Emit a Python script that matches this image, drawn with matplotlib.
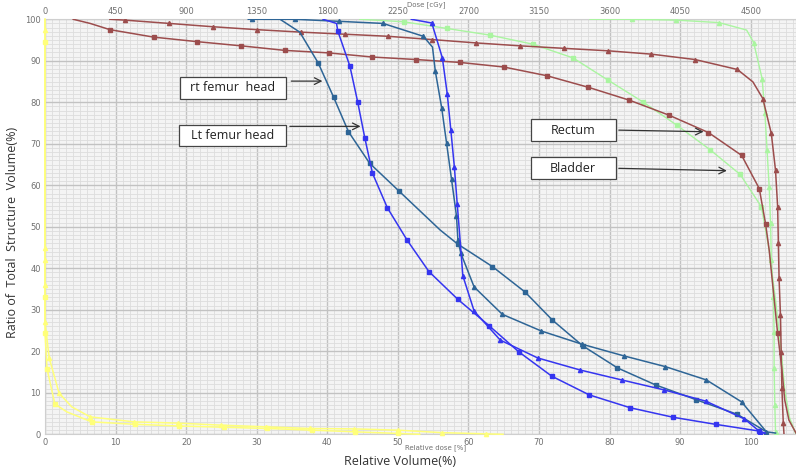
import matplotlib.pyplot as plt
from matplotlib.patches import Rectangle

# relative dose (%) vs volume (%)
yel_tri_x = [0, 0, 0, 0, 0, 0, 0.6, 2.0, 3.8, 6.4, 12.6, 18.8, 25.0, 31.3, 37.5, 43.8, 50.0, 56.2, 62.5, 64.9]
yel_tri_y = [100, 97.3, 44.8, 41.9, 35.9, 27.1, 18.4, 9.9, 6.6, 4.2, 3.0, 2.7, 2.2, 1.8, 1.4, 1.3, 1.0, 0.4, 0.1, 0]

yel_sq_x = [0, 0, 0, 0, 0.3, 1.4, 3.1, 6.6, 12.8, 19.0, 25.3, 31.5, 37.8, 43.9, 50.0, 53.1]
yel_sq_y = [100, 94.5, 33.1, 24.3, 15.7, 7.3, 5.4, 3.0, 2.4, 2.0, 1.7, 1.4, 1.0, 0.6, 0.2, 0]

grn_tri_x = [77.2, 83.1, 89.4, 95.5, 99.4, 100.4, 101.6, 102.0, 102.3, 102.6, 102.8, 102.9, 103.2, 103.3, 103.3, 103.4, 103.5, 103.7]
grn_tri_y = [100, 100, 99.8, 99.2, 97.4, 94.4, 85.7, 77.3, 68.5, 59.6, 50.8, 42.0, 33.1, 24.7, 15.9, 7.1, 0.6, 0]

bladder_x = [44.6, 50.8, 56.9, 63.0, 69.1, 74.8, 79.8, 84.7, 89.5, 94.2, 98.5, 101.5, 102.6, 103.5, 104.3, 104.8, 105.5, 106.4]
bladder_y = [100, 99.4, 97.8, 96.2, 94.0, 90.7, 85.3, 80.1, 74.5, 68.6, 62.6, 54.8, 44.4, 32.3, 20.3, 10.7, 3.9, 0]

brn_tri_x = [9.2, 11.3, 17.6, 23.8, 30.0, 36.3, 42.5, 48.6, 54.9, 61.1, 67.3, 73.5, 79.8, 85.9, 92.1, 98.1, 100.3,
             101.7, 102.9, 103.5, 103.8, 103.9, 104.0, 104.2, 104.3, 104.4, 104.6, 104.7]
brn_tri_y = [100, 99.8, 99.0, 98.2, 97.5, 96.9, 96.4, 95.9, 95.1, 94.3, 93.6, 93.0, 92.4, 91.6, 90.3, 87.9, 84.9,
             80.9, 72.5, 63.6, 54.8, 46.1, 37.6, 28.7, 19.9, 11.2, 2.7, 0]

rectum_x = [4.0, 6.4, 9.2, 15.4, 21.6, 27.8, 34.0, 40.2, 46.4, 52.6, 58.8, 65.0, 71.1, 77.0, 82.8, 88.4, 94.0, 98.7,
            101.2, 102.1, 102.6, 103.8, 104.4, 104.8, 105.4, 106.4]
rectum_y = [100, 99.0, 97.5, 95.7, 94.6, 93.6, 92.5, 91.9, 90.9, 90.3, 89.6, 88.5, 86.4, 83.6, 80.5, 76.9, 72.7, 67.2,
            59.2, 50.6, 44.4, 24.3, 15.7, 8.3, 3.4, 0.3]

dk_tri_x = [28.8, 29.3, 35.4, 41.7, 47.9, 53.6, 54.9, 55.3, 56.2, 56.9, 57.6, 58.3, 58.5, 58.9, 60.8, 64.8, 70.3,
            76.1, 82.0, 87.9, 93.7, 98.7, 102.2, 103.5]
dk_tri_y = [100, 100, 100, 99.5, 99.0, 95.9, 93.3, 87.5, 78.7, 70.1, 61.4, 52.6, 46.8, 43.7, 35.5, 28.9, 24.9,
            21.7, 18.9, 16.3, 13.1, 7.8, 0.6, 0.3]

rt_x = [31.0, 33.3, 36.1, 38.7, 40.9, 43.0, 46.0, 50.1, 56.0, 58.5, 63.4, 68.0, 71.9, 76.2, 81.1, 86.5, 92.3, 98.1, 102.5]
rt_y = [100, 100, 96.9, 89.5, 81.2, 72.9, 65.3, 58.7, 49.2, 45.8, 40.4, 34.3, 27.5, 21.3, 16.0, 11.9, 8.3, 4.8, 0.3]

br_tri_x = [51.9, 54.8, 56.3, 57.0, 57.5, 58.0, 58.4, 58.7, 59.2, 60.8, 64.5, 69.8, 75.8, 81.7, 87.7, 93.6, 99.1, 101.3, 102.0]
br_tri_y = [100, 99.1, 90.7, 81.9, 73.3, 64.4, 55.6, 49.2, 38.2, 29.7, 22.7, 18.4, 15.5, 13.1, 10.7, 8.0, 3.7, 0.6, 0.2]

lt_x = [39.4, 41.3, 41.5, 43.2, 44.3, 45.3, 46.4, 48.5, 51.3, 54.4, 58.5, 62.9, 67.1, 71.8, 77.1, 82.9, 89.0, 95.0, 101.1, 102.0]
lt_y = [100, 99.0, 97.1, 88.7, 80.1, 71.5, 62.9, 54.6, 46.8, 39.2, 32.5, 26.2, 19.9, 14.0, 9.5, 6.4, 4.1, 2.4, 0.8, 0.3]

dose_ticks = [0, 450, 900, 1350, 1800, 2250, 2700, 3150, 3600, 4050, 4500]

fig = plt.figure(figsize=(7.96, 4.69), dpi=100)
ax = fig.add_axes([0.0565, 0.074, 0.9435, 0.8849])
ax.set_facecolor("#f4f4f4")

def draw(x, y, color, marker, skip=(), lw=1.1, clip=True):
    marks = [i for i in range(len(x)) if i not in skip]
    ax.plot(x, y, color=color, lw=lw, marker=marker, ms=3.0, markevery=marks, zorder=3, clip_on=clip)

draw(yel_tri_x, yel_tri_y, "#ffff7a", "^", skip=(0, 8, 19), clip=False)
draw(yel_sq_x, yel_sq_y, "#ffff7a", "s", skip=(0, 6, 15), clip=False)
draw(grn_tri_x, grn_tri_y, "#aaf5a0", "^", skip=(0, 4, 17), lw=1.0)
draw(bladder_x, bladder_y, "#aaf5a0", "s", skip=(0, 12, 13, 14, 15, 16, 17), lw=1.0)
draw(brn_tri_x, brn_tri_y, "#9c4d4d", "^", skip=(0, 16, 27))
draw(rectum_x, rectum_y, "#9c4d4d", "s", skip=(0, 1, 20, 22, 23, 24, 25))
draw(dk_tri_x, dk_tri_y, "#2e6596", "^", skip=(0, 6, 23))
draw(rt_x, rt_y, "#2e6596", "s", skip=(0, 1, 2, 8, 18))
draw(br_tri_x, br_tri_y, "#3535f0", "^", skip=(0, 7, 18))
draw(lt_x, lt_y, "#3535f0", "s", skip=(0, 1, 19))

ax.set_xlim(0, 106.4)
ax.set_ylim(0, 100)
ax.set_xticks(range(0, 101, 10))
ax.set_yticks(range(0, 101, 10))
ax.set_xticks(range(0, 107), minor=True)
ax.set_yticks(range(0, 101), minor=True)
ax.grid(which="minor", color="#dddddd", lw=0.6, zorder=0)
ax.grid(which="major", color="#c2c2c2", lw=1.0, zorder=0)
ax.set_axisbelow(True)
ax.tick_params(which="both", length=0, labelsize=6, labelcolor="#707070", pad=3)
for s in ax.spines.values():
    s.set_color("#cfcfcf")
    s.set_linewidth(0.8)

top = ax.secondary_xaxis("top", functions=(lambda v: v * 45, lambda d: d / 45))
top.set_xticks(dose_ticks)
top.tick_params(length=0, labelsize=6, labelcolor="#707070", pad=2)
top.spines["top"].set_visible(False)

# labelled boxes with arrows
lab = dict(family=["Open Sans", "DejaVu Sans"], fontsize=9, color="#222222", ha="center", va="center", zorder=6)
boxes = [("rt femur  head", 19.1, 80.9, 15.0, 5.3, (34.5, 85.1), (39.7, 85.1)),
         ("Lt femur head", 19.0, 69.4, 15.2, 5.2, (34.3, 74.2), (45.1, 74.2)),
         ("Rectum", 68.8, 70.7, 12.1, 5.2, (80.9, 73.3), (93.7, 72.9)),
         ("Bladder", 68.8, 61.4, 12.1, 5.4, (80.9, 64.1), (97.0, 63.5))]
for txt, bx, by, bw, bh, a0, a1 in boxes:
    ax.add_patch(Rectangle((bx, by), bw, bh, facecolor="white", edgecolor="#444444", lw=0.9, zorder=5))
    ax.text(bx + bw / 2, by + bh / 2, txt, **lab)
    ax.annotate("", xy=a1, xytext=a0, zorder=6,
                arrowprops=dict(arrowstyle="->", color="#333333", lw=0.9, mutation_scale=12))

fig.text(407 / 796, 1 - 5 / 469, "Dose [cGy]", fontsize=5, color="#707070", ha="left", va="center")
fig.text(405 / 796, 1 - 448 / 469, "Relative dose [%]", fontsize=5, color="#707070", ha="left", va="center")
fig.text(400 / 796, 1 - 461 / 469, "Relative Volume(%)", family=["Open Sans", "DejaVu Sans"], fontsize=9,
         color="#333333", ha="center", va="center")
fig.text(13 / 796, 1 - 232 / 469, "Ratio of  Total  Structure  Volume(%)", family=["Open Sans", "DejaVu Sans"],
         fontsize=9, color="#333333", ha="center", va="center", rotation=90)

fig.savefig("out.png", dpi=100)
